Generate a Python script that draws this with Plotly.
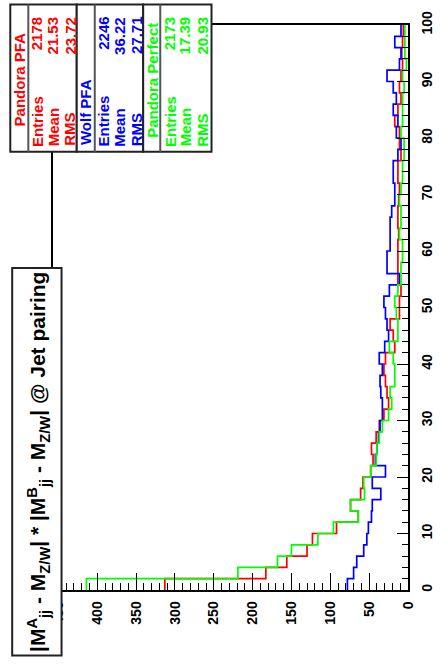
import numpy as np
import plotly.graph_objects as go

# ---------------- data ----------------
bin_edges = list(np.linspace(0, 100, 51))

pandora_pfa = [313, 183, 156, 130, 123, 92, 64, 74, 61, 58,
               48, 45, 47, 41, 37, 31, 25, 27, 29, 31,
               29, 17, 19, 23, 11, 11, 9, 13, 13, 13,
               13, 12, 13, 13, 12, 11, 13, 13, 9, 11,
               11, 17, 13, 9, 11, 9, 7, 8, 7, 6]
wolf_pfa = [78, 70, 66, 57, 53, 51, 47, 46, 35, 46,
            29, 42, 40, 38, 36, 33, 33, 35, 36, 33,
            37, 30, 25, 27, 29, 31, 24, 11, 27, 27,
            23, 23, 23, 21, 17, 17, 19, 19, 13, 9,
            15, 13, 19, 15, 19, 27, 11, 9, 17, 9]
pandora_perfect = [414, 219, 168, 150, 116, 96, 64, 74, 56, 57,
                   48, 41, 40, 37, 33, 25, 21, 23, 17, 17,
                   19, 24, 13, 13, 15, 17, 13, 9, 9, 7,
                   7, 11, 9, 9, 11, 9, 7, 7, 5, 5,
                   9, 7, 7, 7, 5, 7, 2, 4, 4, 4]

series_names = ["Pandora PFA", "Wolf PFA", "Pandora Perfect"]
series_colors = ["#ff0000", "#0000ff", "#00ff00"]
stat_labels = ["Entries", "Mean", "RMS"]
entries = ["2178", "2246", "2173"]
means = ["21.53", "36.22", "17.39"]
rms = ["23.72", "27.71", "20.93"]
title_text = ("|M<sup>A</sup><sub>jj</sub> - M<sub>Z/W</sub>| * "
              "|M<sup>B</sup><sub>jj</sub> - M<sub>Z/W</sub>| @ Jet pairing")

# ---------------- layout geometry (pixels) ----------------
W, H = 446, 668
L, R, T, B = 53, 19, 11, 78
PW, PH = W - L - R, H - T - B


def fx(px):
    return (px - L) / PW


def fy(py):
    return (H - B - py) / PH


# approximate bold Helvetica advance widths (em) to place rotated text by its ends
CW = {"E": .667, "n": .611, "t": .333, "r": .389, "i": .278, "e": .556, "s": .556,
      "M": .833, "a": .556, "R": .722, "S": .667, ".": .278}


def text_len(s, size):
    return sum(CW.get(ch, .556) for ch in s) * size


FONT = "Liberation Sans, Arial, sans-serif"
SF = 15  # stats font size

fig = go.Figure()
for name, color, counts in zip(series_names, series_colors,
                               [pandora_pfa, wolf_pfa, pandora_perfect]):
    fig.add_trace(go.Scatter(
        x=list(counts) + [counts[-1]], y=bin_edges,
        mode="lines", line=dict(color=color, width=1.7, shape="vh"),
        name=name, showlegend=False, hoverinfo="skip"))

axis_common = dict(tickmode="linear", tick0=0, ticks="inside", tickwidth=1, tickcolor="black",
                   tickangle=-90,
                   tickfont=dict(family=FONT, size=14, color="black", weight="bold"),
                   showline=True, mirror=True, linecolor="black", linewidth=1.5,
                   showgrid=False, zeroline=False, ticklabeloverflow="allow")

fig.update_layout(
    width=W, height=H, autosize=False,
    margin=dict(l=L, r=R, t=T, b=B, pad=0),
    paper_bgcolor="white", plot_bgcolor="white",
    xaxis=dict(range=[457, 0], dtick=50, ticklen=17, ticklabelstandoff=4,
               minor=dict(dtick=10, tick0=0, ticks="inside", ticklen=7,
                          tickcolor="black", tickwidth=1, showgrid=False),
               **axis_common),
    yaxis=dict(range=[0, 100], side="right", dtick=10, ticklen=11, ticklabelstandoff=5,
               minor=dict(dtick=2, tick0=0, ticks="inside", ticklen=6,
                          tickcolor="black", tickwidth=1, showgrid=False),
               **axis_common),
)

shapes = []
annotations = []


def rot_text(text, cx, cy, size, color):
    annotations.append(dict(xref="paper", yref="paper", x=fx(cx), y=fy(cy),
                            xanchor="center", yanchor="middle",
                            text=text, textangle=-90, showarrow=False,
                            font=dict(family=FONT, size=size, color=color, weight="bold")))


# title box
shapes.append(dict(type="rect", xref="paper", yref="paper",
                   x0=fx(10), x1=fx(62), y0=fy(657), y1=fy(260),
                   fillcolor="white", line=dict(color="#222", width=2), layer="above"))
rot_text(title_text, 37, 459, 21, "black")

# stats boxes
boxes = [(8, 27, 78), (78, 97, 148), (148, 166, 220)]
title_y = [67, 100, 68]
row_x = [(36, 53, 71), (106, 123, 141), (176, 192, 211)]
for i, (x0, xd, x1) in enumerate(boxes):
    shapes.append(dict(type="rect", xref="paper", yref="paper",
                       x0=fx(x0), x1=fx(x1), y0=fy(141), y1=fy(-10),
                       fillcolor="white", line=dict(color="#222", width=2), layer="above"))
    shapes.append(dict(type="line", xref="paper", yref="paper",
                       x0=fx(xd), x1=fx(xd), y0=fy(141), y1=fy(-10),
                       line=dict(color="#555", width=2), layer="above"))
    c = series_colors[i]
    rot_text(series_names[i], (x0 + xd) / 2 + 0.5, title_y[i], SF, c)
    for lab, val, xx in zip(stat_labels, [entries[i], means[i], rms[i]], row_x[i]):
        rot_text(lab, xx, 135 - text_len(lab, SF) / 2, SF, c)
        rot_text(val, xx, 3 + text_len(val, SF) / 2, SF, c)

fig.update_layout(shapes=shapes, annotations=annotations)
fig.write_html("out.html")
